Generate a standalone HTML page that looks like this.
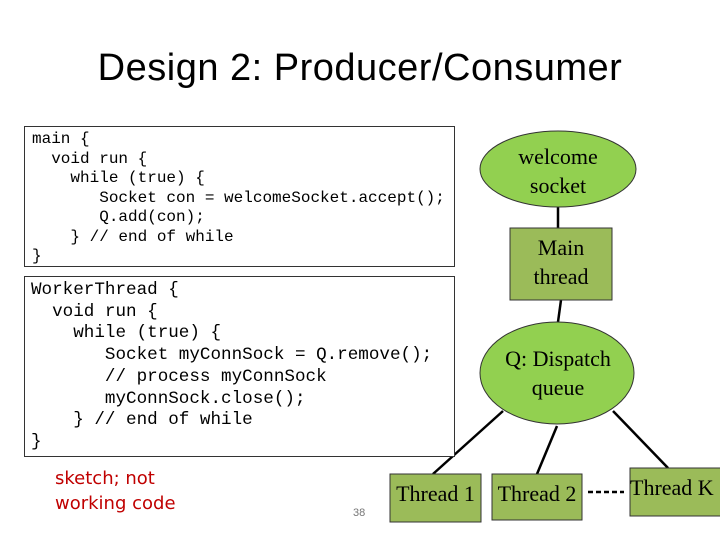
<!DOCTYPE html>
<html><head><meta charset="utf-8"><style>
body{margin:0;width:720px;height:540px;background:#fff;position:relative;overflow:hidden;font-family:"Liberation Sans",sans-serif}
.t{position:absolute;left:0;width:720px;top:47px;text-align:center;font-size:38px;color:#000;letter-spacing:0.5px}
.box{position:absolute;border:1.5px solid #333;background:#fff;font-family:"Liberation Mono",monospace;white-space:pre;color:#000}
.n{position:absolute;font-family:"Liberation Serif",serif;color:#000;text-align:center}
</style></head><body>
<div class="t">Design 2: Producer/Consumer</div>
<svg width="720" height="540" style="position:absolute;left:0;top:0">
<g stroke="#000" stroke-width="2.5" fill="none">
<line x1="558" y1="228" x2="558" y2="198"/>
<line x1="561" y1="300" x2="558" y2="322"/>
<line x1="503" y1="411" x2="433" y2="474"/>
<line x1="557" y1="426" x2="537" y2="474"/>
<line x1="613" y1="411" x2="668" y2="468"/>
<line x1="588" y1="492" x2="624" y2="492" stroke-dasharray="5,3"/>
</g>
<ellipse cx="558" cy="169" rx="78" ry="38" fill="#92d050" stroke="#333" stroke-width="1"/>
<rect x="510" y="228" width="102" height="72" fill="#9bbb59" stroke="#333" stroke-width="1"/>
<ellipse cx="557" cy="373" rx="77" ry="51" fill="#92d050" stroke="#333" stroke-width="1"/>
<rect x="390" y="474" width="91" height="48" fill="#9bbb59" stroke="#333" stroke-width="1"/>
<rect x="492" y="474" width="90" height="46" fill="#9bbb59" stroke="#333" stroke-width="1"/>
<rect x="630" y="468" width="95" height="48" fill="#9bbb59" stroke="#333" stroke-width="1"/>
</svg>
<div class="n" style="left:480px;top:142px;width:156px;font-size:22px;line-height:29px">welcome<br>socket</div>
<div class="n" style="left:510px;top:233px;width:102px;font-size:22px;line-height:29px">Main<br>thread</div>
<div class="n" style="left:480px;top:344px;width:156px;font-size:22px;line-height:29px">Q: Dispatch<br>queue</div>
<div class="n" style="left:390px;top:481px;width:91px;font-size:22px">Thread 1</div>
<div class="n" style="left:492px;top:481px;width:90px;font-size:22px">Thread 2</div>
<div class="n" style="left:630px;top:475px;width:95px;font-size:22px;text-align:left">Thread K</div>
<div class="box" style="left:24px;top:126px;width:431px;height:141px;font-size:16px;line-height:19.5px;padding:3px 0 0 7px;box-sizing:border-box">main {
  void run {
    while (true) {
       Socket con = welcomeSocket.accept();
       Q.add(con);
    } // end of while
}</div>
<div class="box" style="left:24px;top:276px;width:431px;height:181px;font-size:17.6px;line-height:21.7px;padding:3px 0 0 6px;box-sizing:border-box">WorkerThread {
  void run {
    while (true) {
       Socket myConnSock = Q.remove();
       // process myConnSock
       myConnSock.close();
    } // end of while
}</div>
<div style="position:absolute;left:55px;top:466px;font-family:'Comic Sans MS','DejaVu Sans',sans-serif;color:#c00000;font-size:18px;line-height:25px">sketch; not<br>working code</div>
<div style="position:absolute;left:353px;top:507px;font-size:11px;color:#777">38</div>
</body></html>
